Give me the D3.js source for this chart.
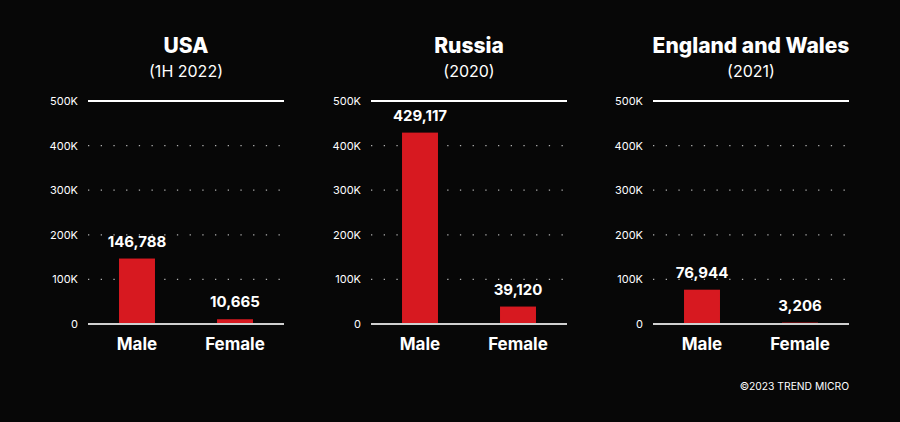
<!DOCTYPE html>
<html><head><meta charset="utf-8">
<script src="https://cdn.jsdelivr.net/npm/d3@7"></script>
<style>
html,body{margin:0;padding:0;background:#070707;}
svg{display:block;font-family:Inter,"Noto Sans",sans-serif;}
</style></head>
<body>
<svg id="chart" width="900" height="422"></svg>
<script>
const countries = ["USA", "Russia", "England and Wales"];
const periods = ["(1H 2022)", "(2020)", "(2021)"];
const categories = ["Male", "Female"];
const maleValues = [146788, 429117, 76944];
const femaleValues = [10665, 39120, 3206];
const tickValues = [0, 100000, 200000, 300000, 400000, 500000];
const tickLabels = ["0", "100K", "200K", "300K", "400K", "500K"];
const footer = "©2023 TREND MICRO";

const svg = d3.select("#chart");
svg.append("rect").attr("width", 900).attr("height", 422).attr("fill", "#070707");

const panelLeft = [88, 371, 653];
const panelW = 196;
const y = d3.scaleLinear().domain([0, 500000]).range([324, 101]);
const fmt = d3.format(",");
const barColor = "#d71920";

countries.forEach((c, i) => {
  const x0 = panelLeft[i];
  const g = svg.append("g").attr("transform", `translate(${x0},0)`);
  const x = d3.scaleBand().domain(categories).range([0, panelW]).paddingInner(0.633).paddingOuter(0.3165);
  const vals = [maleValues[i], femaleValues[i]];
  const cx = panelW / 2;

  g.append("text").attr("x", cx).attr("y", 53).attr("text-anchor", "middle")
    .attr("fill", "#fff").attr("font-size", 21).attr("font-weight", 800).text(c);
  g.append("text").attr("x", cx).attr("y", 77).attr("text-anchor", "middle")
    .attr("fill", "#fff").attr("font-size", 16).attr("font-weight", 400).text(periods[i]);

  // gridlines
  tickValues.forEach((t) => {
    const yy = y(t);
    if (t === 0) return;
    if (t === 500000) {
      g.append("line").attr("x1", 0).attr("x2", panelW).attr("y1", yy).attr("y2", yy)
        .attr("stroke", "#fff").attr("stroke-width", 2);
    } else {
      g.append("line").attr("x1", 0).attr("x2", panelW).attr("y1", yy).attr("y2", yy)
        .attr("stroke", "#b0b0b0").attr("stroke-width", 1.3).attr("stroke-dasharray", "1.3 11.4");
    }
  });

  // y axis labels
  const axis = d3.axisLeft(y).tickValues(tickValues).tickFormat((d, k) => tickLabels[k]).tickSize(0).tickPadding(10);
  const ag = g.append("g").call(axis);
  ag.select(".domain").remove();
  ag.selectAll("text").attr("fill", "#fff").attr("font-size", 11).attr("font-family", "Inter,sans-serif");

  // bars
  g.selectAll("rect.bar").data(categories).enter().append("rect")
    .attr("x", d => x(d)).attr("width", x.bandwidth())
    .attr("y", (d, k) => y(vals[k])).attr("height", (d, k) => y(0) - y(vals[k]))
    .attr("fill", barColor);

  // baseline
  g.append("line").attr("x1", 0).attr("x2", panelW).attr("y1", y(0)).attr("y2", y(0))
    .attr("stroke", "#d0d0d0").attr("stroke-width", 2);

  // value labels
  g.selectAll("text.val").data(categories).enter().append("text")
    .attr("x", d => x(d) + x.bandwidth() / 2).attr("y", (d, k) => y(vals[k]) - 12)
    .attr("text-anchor", "middle").attr("fill", "#fff").attr("font-size", 15).attr("font-weight", 700)
    .text((d, k) => fmt(vals[k]));

  // category labels
  g.selectAll("text.cat").data(categories).enter().append("text")
    .attr("x", d => x(d) + x.bandwidth() / 2).attr("y", 350)
    .attr("text-anchor", "middle").attr("fill", "#fff").attr("font-size", 17).attr("font-weight", 700)
    .text(d => d);
});

svg.append("text").attr("x", 849).attr("y", 390).attr("text-anchor", "end")
  .attr("fill", "#fff").attr("font-size", 10.3).text(footer);
</script>
</body></html>
